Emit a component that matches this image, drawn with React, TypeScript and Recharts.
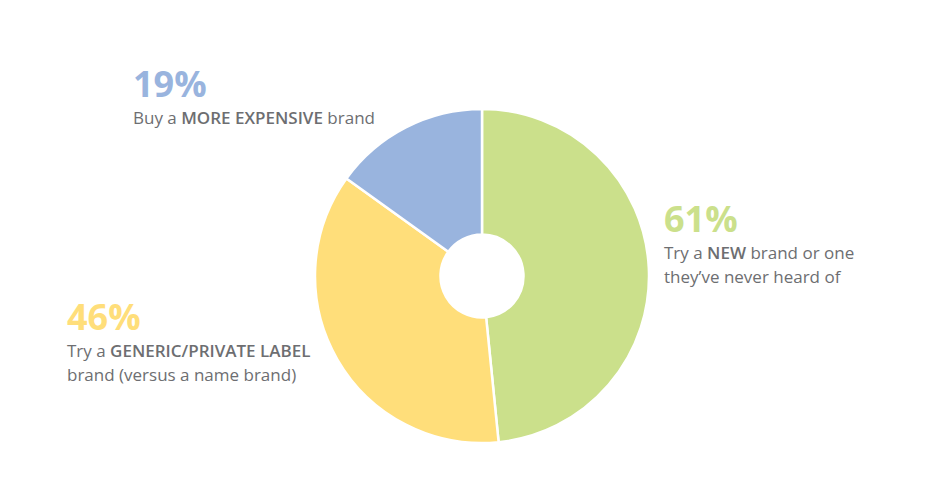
import React from "react";
import { PieChart, Pie, Cell } from "recharts";

const categories = ["NEW", "GENERIC", "EXPENSIVE"];
const values = [61, 46, 19];
const percentLabels = ["61%", "46%", "19%"];
const colors = ["#cbe08b", "#ffde7a", "#99b4de"];
const descLines: { text: string; bold: boolean }[][][] = [
  [
    [{ text: "Try a ", bold: false }, { text: "NEW", bold: true }, { text: " brand or one", bold: false }],
    [{ text: "they\u2019ve never heard of", bold: false }],
  ],
  [
    [{ text: "Try a ", bold: false }, { text: "GENERIC/PRIVATE LABEL", bold: true }],
    [{ text: "brand (versus a name brand)", bold: false }],
  ],
  [
    [{ text: "Buy a ", bold: false }, { text: "MORE EXPENSIVE", bold: true }, { text: " brand", bold: false }],
  ],
];
// label anchor layout (left x, percent baseline y)
const labelPos = [
  { x: 664, y: 232 },
  { x: 67, y: 330 },
  { x: 133, y: 97 },
];

const data = categories.map((c, i) => ({ name: c, value: values[i] }));

const FONT = "'Open Sans', 'Noto Sans', sans-serif";
const GRAY = "#6d6e71";

export default function App() {
  return (
    <div style={{ position: "absolute", left: 0, top: 0, width: 930, height: 495, background: "#fff" }}>
      <PieChart width={930} height={495} margin={{ top: 0, right: 0, bottom: 0, left: 0 }}>
        <Pie
          data={data}
          dataKey="value"
          cx={482}
          cy={276}
          innerRadius={41.5}
          outerRadius={167}
          startAngle={90}
          endAngle={-270}
          stroke="#ffffff"
          strokeWidth={2.5}
          isAnimationActive={false}
        >
          {data.map((d, i) => (
            <Cell key={d.name} fill={colors[i]} />
          ))}
        </Pie>
        {labelPos.map((p, i) => (
          <g key={"lbl" + i}>
            <text x={p.x} y={p.y} fill={colors[i]} fontFamily={FONT} fontWeight={700} fontSize={36}>
              {percentLabels[i]}
            </text>
            {descLines[i].map((line, j) => (
              <text key={j} x={p.x} y={p.y + 27 + j * 24} fill={GRAY} fontFamily={FONT} fontSize={17}>
                {line.map((seg, k) => (
                  <tspan key={k} fontWeight={seg.bold ? 600 : 400}>
                    {seg.text}
                  </tspan>
                ))}
              </text>
            ))}
          </g>
        ))}
      </PieChart>
    </div>
  );
}
